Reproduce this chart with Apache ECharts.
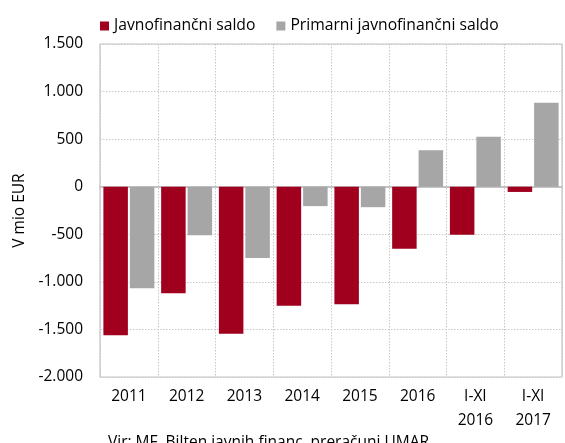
<!DOCTYPE html>
<html>
<head>
<meta charset="utf-8">
<script src="https://cdn.jsdelivr.net/npm/echarts@6/dist/echarts.min.js"></script>
<style>
html,body{margin:0;padding:0;background:#fff;}
#chart{width:565px;height:443px;}
</style>
</head>
<body>
<div id="chart"></div>
<script>
var categories = ['2011', '2012', '2013', '2014', '2015', '2016', 'I-XI\n2016', 'I-XI\n2017'];
var javnofinancniSaldo = [-1560, -1120, -1545, -1250, -1235, -652, -506, -55];
var primarniSaldo = [-1068, -510, -750, -204, -215, 382, 525, 882];
var seriesNames = ['Javnofinančni saldo', 'Primarni javnofinančni saldo'];
var yTicks = { min: -2000, max: 1500, interval: 500 };

var FONT = 'Open Sans';
var chart = echarts.init(document.getElementById('chart'));
function fmt(v) {
  var s = Math.abs(v).toString().replace(/\B(?=(\d{3})+(?!\d))/g, '.');
  return (v < 0 ? '-' : '') + s;
}
chart.setOption({
  animation: false,
  textStyle: { fontFamily: FONT },
  legend: {
    left: 95, top: 13,
    itemWidth: 9, itemHeight: 9, itemGap: 21,
    icon: 'rect',
    textStyle: { fontSize: 15.7, color: '#000', fontFamily: FONT },
    data: seriesNames
  },
  grid: {
    left: 100, right: 3, top: 44, bottom: 66,
    show: true, borderColor: '#c4c4c4', borderWidth: 1.2
  },
  xAxis: {
    type: 'category',
    data: categories,
    axisLine: { show: true, onZero: true, lineStyle: { color: '#c4c4c4', width: 2 } },
    axisTick: { show: false },
    axisLabel: { color: '#000', fontSize: 15.5, lineHeight: 24, margin: 8, fontFamily: FONT, interval: 0 },
    splitLine: { show: true, interval: 0, lineStyle: { color: '#c8c8c8', type: [1.5, 1.5], width: 1 } }
  },
  yAxis: {
    type: 'value',
    min: yTicks.min, max: yTicks.max, interval: yTicks.interval,
    name: 'V mio EUR',
    nameLocation: 'middle',
    nameRotate: 90,
    nameGap: 70,
    nameTextStyle: { color: '#000', fontSize: 15.5, fontFamily: FONT },
    axisLine: { show: false },
    axisTick: { show: false },
    axisLabel: { color: '#000', fontSize: 15.5, margin: 17, fontFamily: FONT, formatter: fmt },
    splitLine: { show: true, lineStyle: { color: '#c8c8c8', type: [1.5, 1.5], width: 1 } }
  },
  series: [
    { name: seriesNames[0], type: 'bar', data: javnofinancniSaldo, barWidth: 24.5, barGap: '8%',
      itemStyle: { color: '#a0001e' } },
    { name: seriesNames[1], type: 'bar', data: primarniSaldo, barWidth: 24.5, barGap: '8%',
      itemStyle: { color: '#a6a6a6' } }
  ],
  graphic: [
    { type: 'text', left: 108, top: 435,
      style: { text: 'Vir: MF, Bilten javnih financ, preračuni UMAR.', fill: '#000', fontSize: 15.5, fontFamily: FONT } }
  ]
});
</script>
</body>
</html>
